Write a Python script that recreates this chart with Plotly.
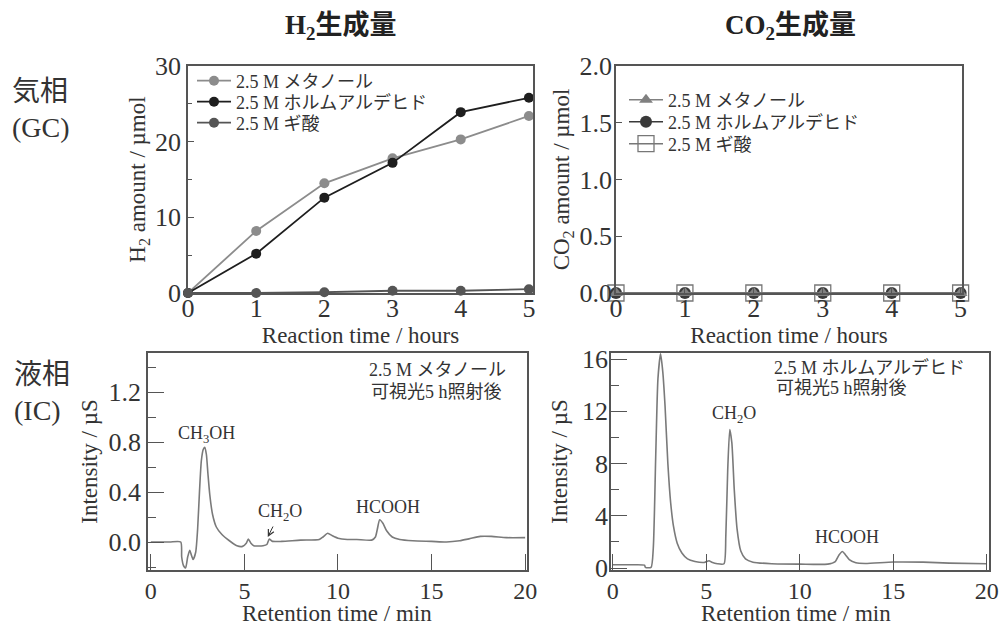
import plotly.graph_objects as go

FONT = "Liberation Serif, Times New Roman, Noto Sans CJK JP, serif"

# ---------------- data ----------------
hours = [0, 1, 2, 3, 4, 5]
h2_methanol = [0.0, 8.2, 14.5, 17.8, 20.3, 23.4]
h2_formaldehyde = [0.0, 5.2, 12.6, 17.2, 23.9, 25.8]
h2_formic = [0.0, 0.0, 0.1, 0.3, 0.3, 0.5]

co2_methanol = [0.0, 0.0, 0.0, 0.0, 0.0, 0.0]
co2_formaldehyde = [0.0, 0.0, 0.0, 0.0, 0.0, 0.0]
co2_formic = [0.0, 0.0, 0.0, 0.0, 0.0, 0.0]

series_names = ["2.5 M メタノール", "2.5 M ホルムアルデヒド", "2.5 M ギ酸"]

# IC chromatogram, 2.5 M methanol after 5 h
ic_meoh_t = [0, 1.0, 1.6, 1.65, 1.75, 1.86, 1.97, 2.08, 2.18, 2.26, 2.4, 2.5, 2.6, 2.7,
             2.8, 2.88, 2.97, 3.05, 3.15, 3.3, 3.5, 3.8, 4.2, 4.6, 4.9, 5.1, 5.21, 5.35,
             5.5, 6.0, 6.2, 6.33, 6.5, 7.0, 8.0, 9.0, 9.2, 9.45, 9.7, 10.0, 10.5, 11.0,
             11.8, 12.0, 12.1, 12.23, 12.4, 12.6, 12.9, 13.3, 14.0, 15.0, 15.8, 16.5,
             17.0, 17.6, 18.2, 19.0, 20.0]
ic_meoh_i = [0.0, 0.0, 0.0, -0.12, -0.19, -0.207, -0.12, -0.066, -0.11, -0.14, -0.08,
             0.1, 0.4, 0.65, 0.74, 0.757, 0.7, 0.55, 0.38, 0.22, 0.12, 0.06, 0.01,
             -0.03, -0.035, -0.01, 0.024, -0.01, -0.03, -0.03, -0.02, 0.024, 0.005,
             0.005, 0.015, 0.02, 0.04, 0.07, 0.05, 0.03, 0.02, 0.02, 0.015, 0.04, 0.1,
             0.178, 0.15, 0.09, 0.04, 0.02, 0.01, 0.005, 0.0, 0.01, 0.025, 0.045,
             0.045, 0.035, 0.035]

# IC chromatogram, 2.5 M formaldehyde after 5 h
ic_hcho_t = [0, 1.0, 1.7, 1.75, 2.05, 2.17, 2.3, 2.42, 2.56, 2.68, 2.8, 2.95, 3.1, 3.25,
             3.45, 3.7, 4.0, 4.4, 4.9, 5.15, 5.3, 5.6, 5.95, 6.05, 6.15, 6.26, 6.37, 6.5,
             6.65, 6.85, 7.1, 7.5, 8.5, 10.0, 11.5, 11.9, 12.1, 12.28, 12.45, 12.65,
             13.0, 13.5, 15.0, 16.6, 18.0, 20.0]
ic_hcho_i = [0.25, 0.25, 0.22, 0.05, 0.05, 1.5, 8.5, 14.5, 16.4, 15.0, 12.4, 8.0, 5.0,
             3.2, 1.9, 1.15, 0.7, 0.5, 0.43, 0.56, 0.45, 0.33, 0.33, 2.5, 7.5, 10.6,
             9.6, 6.0, 3.0, 1.3, 0.7, 0.45, 0.33, 0.3, 0.3, 0.5, 1.0, 1.27, 1.0, 0.65,
             0.4, 0.35, 0.46, 0.45, 0.38, 0.33]

# ---------------- figure ----------------
W, H = 1000, 626
fig = go.Figure()

h2_colors = ["#8c8c8c", "#1e1e1e", "#555555"]
h2_legends = ["legend", "legend2", "legend3"]
for name, ys, col, lg in zip(series_names, [h2_methanol, h2_formaldehyde, h2_formic],
                             h2_colors, h2_legends):
    fig.add_trace(go.Scatter(
        x=hours, y=ys, name=name, mode="lines+markers", xaxis="x", yaxis="y",
        line=dict(color=col, width=1.8), marker=dict(color=col, size=10, symbol="circle"),
        cliponaxis=False, legend=lg))

# CO2 traces (draw order: square, circle, triangle)
fig.add_trace(go.Scatter(
    x=hours, y=co2_formic, name=series_names[2], mode="lines+markers", xaxis="x2", yaxis="y2",
    line=dict(color="#777777", width=1.5),
    marker=dict(symbol="square-open", size=16, color="#777777", line=dict(width=1.3)),
    cliponaxis=False, legend="legend6"))
fig.add_trace(go.Scatter(
    x=hours, y=co2_formaldehyde, name=series_names[1], mode="lines+markers", xaxis="x2", yaxis="y2",
    line=dict(color="#3a3a3a", width=1.5),
    marker=dict(symbol="circle", size=12, color="#3a3a3a"),
    cliponaxis=False, legend="legend5"))
fig.add_trace(go.Scatter(
    x=hours, y=co2_methanol, name=series_names[0], mode="lines+markers", xaxis="x2", yaxis="y2",
    line=dict(color="#808080", width=1.5),
    marker=dict(symbol="triangle-up", size=12, color="#808080"),
    cliponaxis=False, legend="legend4"))

fig.add_trace(go.Scatter(
    x=ic_meoh_t, y=ic_meoh_i, mode="lines", xaxis="x3", yaxis="y3", showlegend=False,
    line=dict(color="#7a7a7a", width=1.6, shape="spline", smoothing=0.6)))
fig.add_trace(go.Scatter(
    x=ic_hcho_t, y=ic_hcho_i, mode="lines", xaxis="x4", yaxis="y4", showlegend=False,
    line=dict(color="#7a7a7a", width=1.6, shape="spline", smoothing=0.6)))


def px_x(a, b):
    return [a / W, b / W]


def px_y(top, bottom):
    return [1 - bottom / H, 1 - top / H]


axis_common = dict(showline=True, mirror=True, linecolor="#555555", linewidth=1.5,
                   ticks="inside", tickcolor="#555555", showgrid=False, zeroline=False,
                   automargin=False,
                   tickfont=dict(family=FONT, size=26, color="#333333"))
title_font = dict(family=FONT, size=23, color="#333333")
bottom_tickfont = dict(family=FONT, size=24, color="#333333")


def legend_at(x_px, y_px):
    return dict(x=x_px / W, y=1 - y_px / H, xanchor="left", yanchor="middle",
                bgcolor="rgba(0,0,0,0)", borderwidth=0,
                font=dict(family=FONT, size=18, color="#333333"), itemwidth=34)


fig.update_layout(
    width=W, height=H, margin=dict(l=0, r=0, t=0, b=0, autoexpand=False),
    paper_bgcolor="white", plot_bgcolor="white",
    font=dict(family=FONT, color="#333333"),
    xaxis=dict(axis_common, domain=px_x(188, 533), range=[0, 5.06], dtick=1, ticklen=5,
               ticklabelstandoff=-9,
               title=dict(text="Reaction time / hours", font=title_font, standoff=2),
               anchor="y"),
    yaxis=dict(axis_common, domain=px_y(66, 293), range=[0, 30], dtick=10, ticklen=6,
               minor=dict(ticks="inside", dtick=5, ticklen=4, tickcolor="#555555"),
               title=dict(text="H<sub>2</sub> amount / µmol", font=title_font, standoff=3),
               anchor="x"),
    xaxis2=dict(axis_common, domain=px_x(616, 962), range=[0, 5.02], dtick=1, ticklen=5,
                ticklabelstandoff=-9,
                title=dict(text="Reaction time / hours", font=title_font, standoff=2),
                anchor="y2"),
    yaxis2=dict(axis_common, domain=px_y(66, 293), range=[0, 2.0], dtick=0.5, ticklen=6,
                tickformat=".1f", ticklabelstandoff=-3,
                title=dict(text="CO<sub>2</sub> amount / µmol", font=title_font, standoff=3),
                anchor="x2"),
    xaxis3=dict(axis_common, domain=px_x(148, 527), range=[-0.15, 20.1], dtick=5, ticklen=16,
                tickfont=bottom_tickfont, ticklabelstandoff=-2, anchor="y3"),
    yaxis3=dict(axis_common, domain=px_y(353, 570), range=[-0.224, 1.512], dtick=0.4,
                tick0=0, ticklen=16, tickformat=".1f",
                minor=dict(ticks="inside", dtick=0.2, ticklen=8, tickcolor="#555555"),
                title=dict(text="Intensity / µS", font=title_font, standoff=4),
                anchor="x3"),
    xaxis4=dict(axis_common, domain=px_x(611, 989), range=[-0.09, 20.12], dtick=5, ticklen=16,
                tickfont=bottom_tickfont, ticklabelstandoff=-2, anchor="y4"),
    yaxis4=dict(axis_common, domain=px_y(353, 570), range=[-0.15, 16.46], dtick=4,
                tick0=0, ticklen=16, ticklabelstandoff=-4,
                minor=dict(ticks="inside", dtick=2, ticklen=8, tickcolor="#555555"),
                title=dict(text="Intensity / µS", font=title_font, standoff=8),
                anchor="x4"),
    legend=legend_at(192, 81),
    legend2=legend_at(192, 102),
    legend3=legend_at(192, 123),
    legend4=legend_at(624, 100),
    legend5=legend_at(624, 122),
    legend6=legend_at(624, 144),
    showlegend=True,
)

ann_font = dict(family=FONT, size=18, color="#333333")


def ann(text, x, y, xref="paper", yref="paper", font=ann_font, xanchor="center", **kw):
    return dict(text=text, x=x, y=y, xref=xref, yref=yref, showarrow=False, font=font,
                xanchor=xanchor, yanchor="middle", **kw)


annotations = [
    # panel titles
    ann("<b>H<sub>2</sub>生成量</b>", 340 / W, 1 - 27 / H,
        font=dict(family=FONT, size=27, color="#222222")),
    ann("<b>CO<sub>2</sub>生成量</b>", 790 / W, 1 - 27 / H,
        font=dict(family=FONT, size=27, color="#222222")),
    # row labels
    ann("気相<br>(GC)", 10 / W, 1 - 110 / H, xanchor="left", align="left",
        font=dict(family=FONT, size=28, color="#333333")),
    ann("液相<br>(IC)", 12 / W, 1 - 392 / H, xanchor="left", align="left",
        font=dict(family=FONT, size=28, color="#333333")),
    # bottom x-axis titles
    ann("Retention time / min", 337 / W, 1 - 613 / H, font=title_font),
    ann("Retention time / min", 796 / W, 1 - 613 / H, font=title_font),
    # IC methanol panel
    ann("2.5 M メタノール", 15.3, 1.376, "x3", "y3"),
    ann("可視光5 h照射後", 15.25, 1.2, "x3", "y3"),
    ann("CH<sub>3</sub>OH", 3.0, 0.864, "x3", "y3"),
    ann("CH<sub>2</sub>O", 6.9, 0.24, "x3", "y3"),
    dict(text="", x=6.25, y=0.04, xref="x3", yref="y3", ax=6, ay=-12, showarrow=True,
         arrowhead=5, arrowsize=1.2, arrowwidth=1, arrowcolor="#333333"),
    ann("HCOOH", 12.67, 0.28, "x3", "y3"),
    # IC formaldehyde panel
    ann("2.5 M ホルムアルデヒド", 8.5, 15.34, "x4", "y4", xanchor="left"),
    ann("可視光5 h照射後", 8.6, 13.8, "x4", "y4", xanchor="left"),
    ann("CH<sub>2</sub>O", 6.49, 11.74, "x4", "y4"),
    ann("HCOOH", 12.52, 2.4, "x4", "y4"),
]
fig.update_layout(annotations=annotations)

fig.write_html("out.html", config={"displayModeBar": False},
               post_script="document.body.style.margin='0px';")
